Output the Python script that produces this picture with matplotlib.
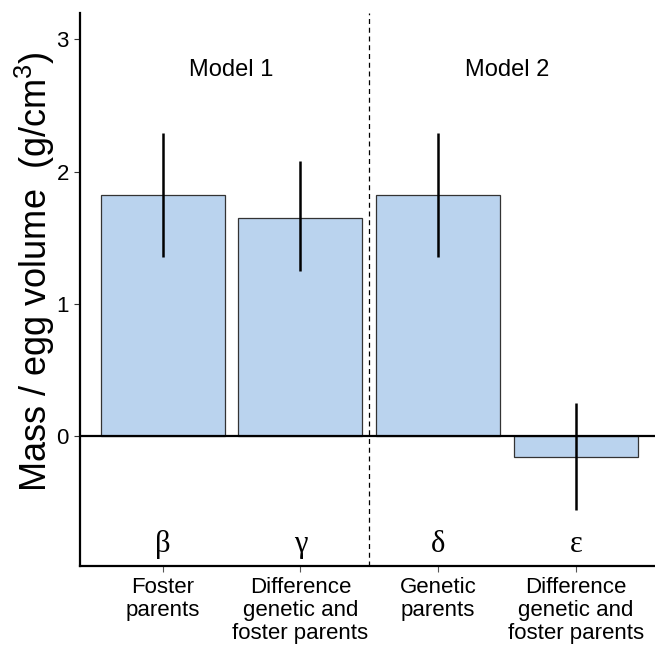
import matplotlib
matplotlib.use("Agg")
import matplotlib.pyplot as plt

plt.rcParams['font.family'] = ['Liberation Sans', 'DejaVu Sans']
plt.rcParams['mathtext.fontset'] = 'custom'
plt.rcParams['mathtext.rm'] = 'Liberation Sans'
plt.rcParams['mathtext.it'] = 'Liberation Sans'

categories = ["Foster\nparents", "Difference\ngenetic and\nfoster parents",
              "Genetic\nparents", "Difference\ngenetic and\nfoster parents"]
estimates = [1.82, 1.65, 1.82, -0.16]
lower = [1.35, 1.25, 1.35, -0.56]
upper = [2.29, 2.08, 2.29, 0.25]
greek = ["β", "γ", "δ", "ε"]
models = ["Model 1", "Model 2"]
model_x = [1.5, 3.5]
yticks = [0, 1, 2, 3]

fig = plt.figure(figsize=(6.55, 6.48), dpi=100)
ax = fig.add_axes([80/655, (648-566)/648, 1 - 80/655, (566-13)/648])

x = list(range(1, len(categories) + 1))
ax.bar(x, estimates, width=0.9, color="#BAD3EE", edgecolor="#333333", linewidth=0.9, zorder=2)
ax.vlines(x, lower, upper, color="black", linewidth=1.8, zorder=3)
ax.axhline(0, color="black", linewidth=1.6, zorder=4)
ax.axvline(2.5, color="black", linewidth=0.9, linestyle=(0, (4, 3)), zorder=1)

for xi, g in zip(x, greek):
    ax.text(xi, -0.82, g, ha="center", va="center", fontsize=22,
            family=["Liberation Serif", "DejaVu Serif"])
for mx, m in zip(model_x, models):
    ax.text(mx, 2.77, m, ha="center", va="center", fontsize=17)

ax.set_xlim(0.4, 4.575)
ax.set_ylim(-0.985, 3.2)
ax.set_yticks(yticks)
ax.set_yticklabels([str(t) for t in yticks], fontsize=16)
ax.set_xticks(x)
ax.set_xticklabels(categories, fontsize=16, linespacing=1.12)
ax.tick_params(axis="x", length=4, color="#555555", pad=4)
ax.tick_params(axis="y", length=4, color="#333333", pad=4)
for s in ["top", "right"]:
    ax.spines[s].set_visible(False)
for s in ["left", "bottom"]:
    ax.spines[s].set_linewidth(1.6)

fig.text(35/655, 1 - 272/648, "Mass / egg volume  (g/cm$^{3}$)", rotation=90,
         ha="center", va="center", fontsize=26)

fig.savefig("out.png", dpi=100)
